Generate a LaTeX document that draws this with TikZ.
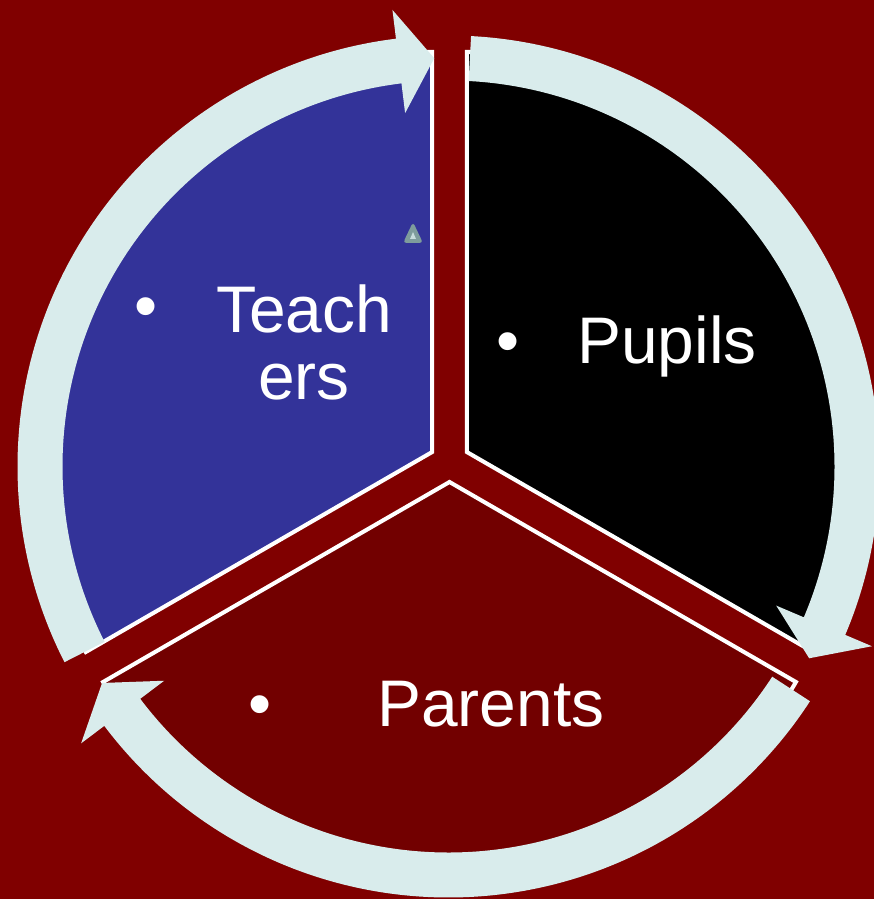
\documentclass[tikz,border=0pt]{standalone}
\usepackage{fontspec}
\setmainfont{Liberation Sans}
\usepackage{tikz}
\definecolor{bgred}{HTML}{800000}
\definecolor{parentred}{HTML}{720000}
\definecolor{teachblue}{HTML}{333399}
\definecolor{ringcyan}{HTML}{D9ECEC}
\definecolor{iconteal}{HTML}{7E9C9C}

\begin{document}
\begin{tikzpicture}[x=0.02cm,y=0.02cm]
				\tikzset{wedge/.style={draw=white,line width=2.3pt,line join=miter}}
				\tikzset{label/.style={text=white,inner sep=0pt,font=\fontsize{37.5}{38.5}\selectfont}}
				\fill[bgred] (0,0) rectangle (874,899);
				\useasboundingbox (0,0) rectangle (874,899);
				\coordinate (teachers) at (432.2,447);
				\coordinate (pupils) at (466.8,447);
				\coordinate (parents) at (449.5,417);
				\coordinate (hub) at (448.5,432.5);
				\filldraw[wedge,fill=teachblue] (teachers) -- ++(90:400) arc[start angle=90,end angle=210,radius=400] -- cycle;
				\filldraw[wedge,fill=black] (pupils) -- ++(90:400) arc[start angle=90,end angle=-30,radius=400] -- cycle;
				\filldraw[wedge,fill=parentred] (parents) -- ++(210:400) arc[start angle=210,end angle=330,radius=400] -- cycle;
				\foreach \s/\t/\b in {207/92/97,87/-28/-23,-33/-148/-143}
					\fill[ringcyan,shift={(hub)}] (\s:431) arc[start angle=\s,end angle=\b,radius=431] -- (\b:460) -- (\t:408.5) -- (\b:356) -- (\b:386) arc[start angle=\b,end angle=\s,radius=386] -- cycle;
				\fill[iconteal,rounded corners=2pt] (403,656) -- (423,656) -- (413,677) -- cycle;
				\fill[ringcyan!80!iconteal] (410,660) -- (416,660) -- (413,667) -- cycle;
				\node[label,anchor=base] (tdot) at (146,570) {•};
				\node[label,anchor=base,align=center] (tname) at (304,499) {Teach\\ers};
				\node[label,anchor=base] (udot) at (508,535) {•};
				\node[label,anchor=base west] (uname) at (577,535) {Pupils};
				\node[label,anchor=base] (adot) at (260,172) {•};
				\node[label,anchor=base west] (aname) at (377,172) {Parents};
			\end{tikzpicture}
\end{document}
